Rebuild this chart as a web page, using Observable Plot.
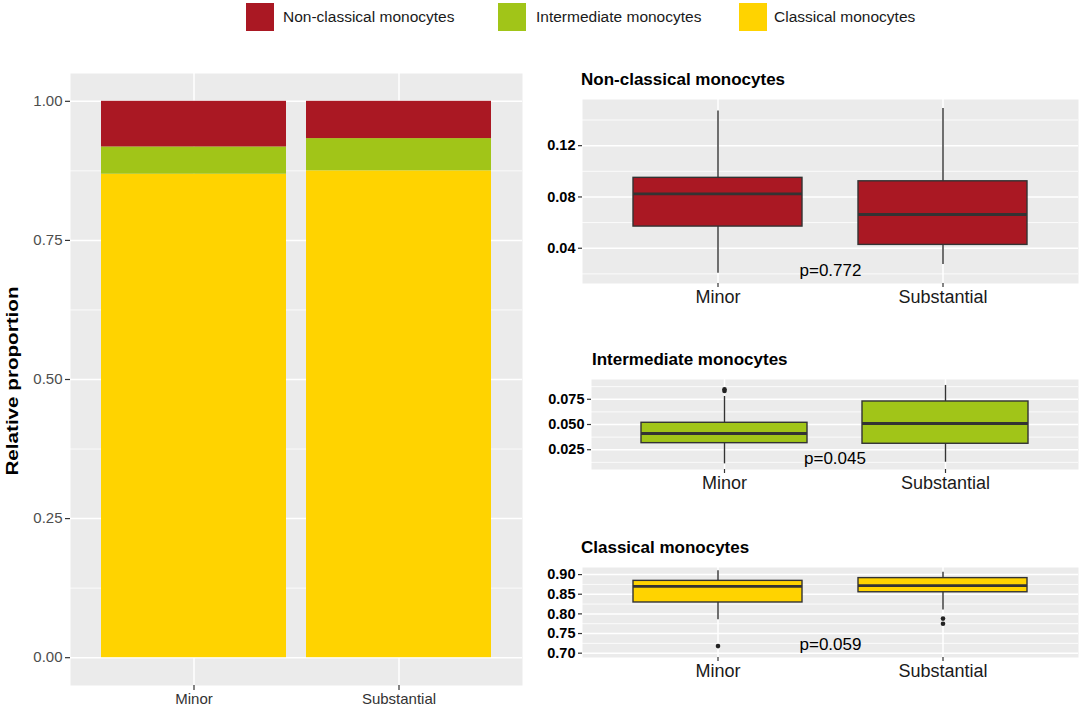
<!DOCTYPE html>
<html>
<head>
<meta charset="utf-8">
<script src="https://cdn.jsdelivr.net/npm/d3@7"></script>
<script src="https://cdn.jsdelivr.net/npm/@observablehq/plot@0.6"></script>
<style>
  html, body { margin: 0; padding: 0; background: #fff; }
  body { width: 1084px; height: 709px; position: relative; overflow: hidden;
         font-family: "Liberation Sans", Arial, Helvetica, sans-serif; }
  .abs { position: absolute; }
  .key { position: absolute; width: 28px; height: 28px; top: 3px; }
  .ktxt { position: absolute; top: 8px; font-size: 15.5px; color: #1a1a1a; white-space: nowrap; }
  .ptitle { position: absolute; font-size: 17px; font-weight: bold; color: #000; white-space: nowrap; }
  svg { background: none !important; }
</style>
</head>
<body>
<div id="left" class="abs" style="left:0;top:0;"></div>
<div id="p1" class="abs" style="left:540px;top:90px;"></div>
<div id="p2" class="abs" style="left:540px;top:370px;"></div>
<div id="p3" class="abs" style="left:540px;top:558px;"></div>

<div id="legend"></div>
<div class="abs" style="left:12px;top:381px;transform:translate(-50%,-50%) rotate(-90deg) scaleX(1.25);font-size:16.5px;font-weight:bold;white-space:nowrap;color:#000;">Relative proportion</div>
<div class="ptitle" style="left:581px;top:70px;">Non-classical monocytes</div>
<div class="ptitle" style="left:592px;top:350px;">Intermediate monocytes</div>
<div class="ptitle" style="left:581px;top:538px;">Classical monocytes</div>

<script>
// ---------------- data ----------------
const groups = ["Minor", "Substantial"];
const legendTypes = ["Non-classical monocytes", "Intermediate monocytes", "Classical monocytes"];
const stackTypes = ["Classical monocytes", "Intermediate monocytes", "Non-classical monocytes"];

// relative proportions (stacked bar)
const classicalProp = [0.869, 0.875];
const intermediateProp = [0.049, 0.058];
const nonClassicalProp = [0.082, 0.067];
const propTicks = [0, 0.25, 0.5, 0.75, 1];
const propMinorTicks = [0.125, 0.375, 0.625, 0.875];

// Non-classical boxplot summary
const ncLow = [0.0205, 0.0273];
const ncQ1 = [0.0569, 0.0426];
const ncMedian = [0.0824, 0.0663];
const ncQ3 = [0.0949, 0.0922];
const ncHigh = [0.147, 0.149];
const ncOutGroup = [];
const ncOutValue = [];
const ncTicks = [0.04, 0.08, 0.12];
const ncMinorTicks = [0.02, 0.06, 0.10, 0.14];
const ncP = "p=0.772";
const ncPY = 0.0226;

// Intermediate boxplot summary
const imLow = [0.011, 0.0126];
const imQ1 = [0.0315, 0.0309];
const imMedian = [0.0411, 0.051];
const imQ3 = [0.0517, 0.0728];
const imHigh = [0.0778, 0.0887];
const imOutGroup = ["Minor", "Minor"];
const imOutValue = [0.0832, 0.0849];
const imTicks = [0.025, 0.05, 0.075];
const imMinorTicks = [0.0125, 0.0375, 0.0625, 0.0875];
const imP = "p=0.045";
const imPY = 0.0163;

// Classical boxplot summary
const clLow = [0.785, 0.81];
const clQ1 = [0.829, 0.855];
const clMedian = [0.870, 0.872];
const clQ3 = [0.884, 0.891];
const clHigh = [0.91, 0.906];
const clOutGroup = ["Minor", "Substantial", "Substantial"];
const clOutValue = [0.718, 0.788, 0.775];
const clTicks = [0.70, 0.75, 0.80, 0.85, 0.90];
const clMinorTicks = [0.725, 0.775, 0.825, 0.875];
const clP = "p=0.059";
const clPY = 0.7212;

// ---------------- styles ----------------
const COLORS = {
  "Non-classical monocytes": "#AA1823",
  "Intermediate monocytes": "#A1C518",
  "Classical monocytes": "#FFD300"
};
const PANEL_BG = "#EBEBEB";
const FONT = "'Liberation Sans', Arial, Helvetica, sans-serif";

// ---------------- legend ----------------
const legendKeyX = [246, 498, 739];
const legendTxtX = [283, 536, 774];
const legend = document.getElementById("legend");
legendTypes.forEach((t, i) => {
  const k = document.createElement("div");
  k.className = "key";
  k.style.left = legendKeyX[i] + "px";
  k.style.background = COLORS[t];
  legend.appendChild(k);
  const s = document.createElement("div");
  s.className = "ktxt";
  s.style.left = legendTxtX[i] + "px";
  s.textContent = t;
  legend.appendChild(s);
});

// ---------------- left stacked bar ----------------
const propByType = {
  "Classical monocytes": classicalProp,
  "Intermediate monocytes": intermediateProp,
  "Non-classical monocytes": nonClassicalProp
};
const propTable = groups.flatMap((g, i) =>
  stackTypes.map(t => ({group: g, type: t, value: propByType[t][i]})));

const left = Plot.plot({
  width: 530, height: 709,
  marginLeft: 70, marginRight: 8, marginTop: 73, marginBottom: 24,
  style: {fontFamily: FONT, background: "none", overflow: "visible"},
  x: {type: "band", domain: groups, paddingInner: 0.1, paddingOuter: 0.15, label: null},
  y: {domain: [-0.05, 1.05], label: null},
  color: {domain: stackTypes, range: stackTypes.map(t => COLORS[t])},
  marks: [
    Plot.frame({fill: PANEL_BG, stroke: null}),
    Plot.ruleY(propMinorTicks, {stroke: "#fff", strokeWidth: 0.8}),
    Plot.ruleY(propTicks, {stroke: "#fff", strokeWidth: 1.5}),
    Plot.ruleX(groups, {x: d => d, stroke: "#fff", strokeWidth: 1.5}),
    Plot.barY(propTable, {x: "group", y: "value", fill: "type"}),
    Plot.axisY({ticks: propTicks, tickFormat: d3.format(".2f"), tickSize: 5, tickPadding: 3,
      fontSize: 15, fill: "#4d4d4d", stroke: "#333", strokeWidth: 1.2, label: null}),
    Plot.axisX({tickSize: 5, tickPadding: 3, fontSize: 15, fill: "#333", stroke: "#333", strokeWidth: 1.2, label: null})
  ]
});
document.getElementById("left").appendChild(left);

// ---------------- box panels ----------------
function boxPanel(o) {
  const boxes = groups.map((g, i) => ({group: g, low: o.low[i], q1: o.q1[i], med: o.med[i], q3: o.q3[i], high: o.high[i]}));
  const outs = o.outG.map((g, i) => ({group: g, value: o.outV[i]}));
  return Plot.plot({
    width: 544, height: o.height,
    marginLeft: o.ml, marginRight: 6, marginTop: o.mt, marginBottom: o.mb,
    style: {fontFamily: FONT, background: "none", overflow: "visible"},
    x: {type: "band", domain: groups, paddingInner: 0.25, paddingOuter: 0.225, label: null},
    y: {domain: o.domain, label: null},
    marks: [
      Plot.frame({fill: PANEL_BG, stroke: null}),
      Plot.ruleY(o.minor, {stroke: "#fff", strokeWidth: 0.8}),
      Plot.ruleY(o.ticks, {stroke: "#fff", strokeWidth: 1.5}),
      Plot.ruleX(groups, {x: d => d, stroke: "#fff", strokeWidth: 1.5}),
      Plot.ruleX(boxes, {x: "group", y1: "low", y2: "high", stroke: "#333", strokeWidth: 1.4}),
      Plot.barY(boxes, {x: "group", y1: "q1", y2: "q3", fill: o.color, stroke: "#333", strokeWidth: 1.4}),
      Plot.tickY(boxes, {x: "group", y: "med", stroke: "#333", strokeWidth: 2.8}),
      Plot.dot(outs, {x: "group", y: "value", r: 2.3, fill: "#222", stroke: null}),
      Plot.text([o.p], {y: () => o.pY, text: d => d, fontSize: 17, fill: "#000", frameAnchor: "middle"}),
      Plot.axisY({ticks: o.ticks, tickFormat: d3.format(o.fmt), tickSize: 4, tickPadding: 3,
        fontSize: 14.5, fontWeight: "bold", fill: "#000", stroke: "#333", strokeWidth: 1.2, label: null}),
      Plot.axisX({tickSize: 4, tickPadding: 3, fontSize: 18, fill: "#1a1a1a", stroke: "#333", strokeWidth: 1.2, label: null})
    ]
  });
}

document.getElementById("p1").appendChild(boxPanel({
  low: ncLow, q1: ncQ1, med: ncMedian, q3: ncQ3, high: ncHigh, outG: ncOutGroup, outV: ncOutValue,
  color: COLORS["Non-classical monocytes"], domain: [0.0125, 0.156], ticks: ncTicks, minor: ncMinorTicks,
  fmt: ".2f", p: ncP, pY: ncPY, height: 225, ml: 42, mt: 9, mb: 32
}));
document.getElementById("p2").appendChild(boxPanel({
  low: imLow, q1: imQ1, med: imMedian, q3: imQ3, high: imHigh, outG: imOutGroup, outV: imOutValue,
  color: COLORS["Intermediate monocytes"], domain: [0.0054, 0.0946], ticks: imTicks, minor: imMinorTicks,
  fmt: ".3f", p: imP, pY: imPY, height: 130, ml: 51, mt: 9, mb: 31
}));
document.getElementById("p3").appendChild(boxPanel({
  low: clLow, q1: clQ1, med: clMedian, q3: clQ3, high: clHigh, outG: clOutGroup, outV: clOutValue,
  color: COLORS["Classical monocytes"], domain: [0.689, 0.918], ticks: clTicks, minor: clMinorTicks,
  fmt: ".2f", p: clP, pY: clPY, height: 140, ml: 42, mt: 9, mb: 41
}));
</script>
</body>
</html>
